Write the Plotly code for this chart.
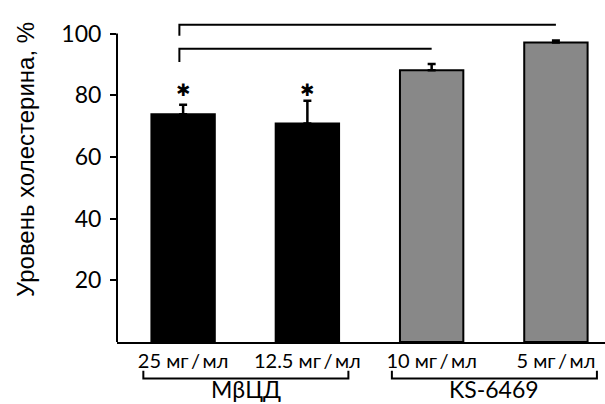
import plotly.graph_objects as go

categories = ["25 мг\u2009/\u2009мл", "12.5 мг\u2009/\u2009мл", "10 мг\u2009/\u2009мл", "5 мг\u2009/\u2009мл"]
values = [73.8, 70.8, 88.1, 97.1]
errors = [3.1, 7.4, 2.0, 0.6]
colors = ["#000000", "#000000", "#888888", "#888888"]
significant = [True, True, False, False]
groups = ["МβЦД", "KS-6469"]
group_members = [[0, 1], [2, 3]]
comparisons = [(0, 3, 102.8, 99.3), (0, 2, 95.1, 90.8)]
y_ticks = [20, 40, 60, 80, 100]

xpos = list(range(len(categories)))
FONT = "Lato"

fig = go.Figure()
fig.add_trace(go.Bar(
    x=xpos, y=values, width=0.51,
    marker=dict(color=colors, line=dict(color="black", width=2)),
    error_y=dict(type="data", symmetric=False, array=errors,
                 arrayminus=[0] * len(errors), color="black",
                 thickness=2.5, width=4),
    showlegend=False, hoverinfo="skip",
))

shapes = []
# y axis line from 0 to 100
shapes.append(dict(type="line", xref="paper", yref="y", x0=0, x1=0,
                   y0=0, y1=max(y_ticks), line=dict(color="black", width=2)))
# comparison brackets
for a, b, ytop, ydrop in comparisons:
    xa = xpos[a] - 0.03
    xb = xpos[b]
    shapes.append(dict(type="path", xref="x", yref="y",
                       path=f"M {xa},{ydrop} L {xa},{ytop} L {xb},{ytop}",
                       line=dict(color="black", width=2)))
# group brackets
annotations = []
for name, mem in zip(groups, group_members):
    x0 = xpos[mem[0]] - 0.32
    x1 = xpos[mem[-1]] + 0.33
    shapes.append(dict(type="path", xref="x", yref="paper",
                       path=f"M {x0},-0.088 L {x0},-0.112 L {x1},-0.112 L {x1},-0.088",
                       line=dict(color="black", width=2)))
    annotations.append(dict(x=(x0 + x1) / 2, y=-0.145, xref="x", yref="paper",
                            text=name, showarrow=False, xanchor="center",
                            yanchor="middle",
                            font=dict(family=FONT, size=23, color="black")))
# asterisks
star_y = max(v + e for v, e, s in zip(values, errors, significant) if s) + 3.6
for i, s in enumerate(significant):
    if s:
        annotations.append(dict(x=xpos[i], y=star_y,
                                xref="x", yref="y", text="✱", showarrow=False,
                                xanchor="center", yanchor="middle",
                                font=dict(family="DejaVu Sans", size=17, color="black")))
# y title
annotations.append(dict(x=-0.189, y=0.559, xref="paper", yref="paper",
                        text="Уровень холестерина, %", textangle=-90,
                        showarrow=False, xanchor="center", yanchor="middle",
                        font=dict(family="Liberation Sans", size=24, color="black")))

fig.update_layout(
    width=605, height=404,
    margin=dict(l=117, r=0, t=15, b=62),
    plot_bgcolor="white", paper_bgcolor="white",
    shapes=shapes, annotations=annotations,
    xaxis=dict(range=[-0.532, 3.395], tickvals=xpos, ticktext=categories,
               showline=True, linecolor="black", linewidth=2, ticks="",
               showgrid=False, zeroline=False,
               tickfont=dict(family=FONT, size=20, color="black")),
    yaxis=dict(range=[0, 106], tickvals=y_ticks, showline=False,
               ticks="outside", ticklen=6, tickwidth=2, tickcolor="black",
               showgrid=False, zeroline=False, ticklabelstandoff=4,
               tickfont=dict(family=FONT, size=23, color="black")),
)

fig.write_html("out.html", config={"displayModeBar": False},
               post_script="document.body.style.margin='0';")
